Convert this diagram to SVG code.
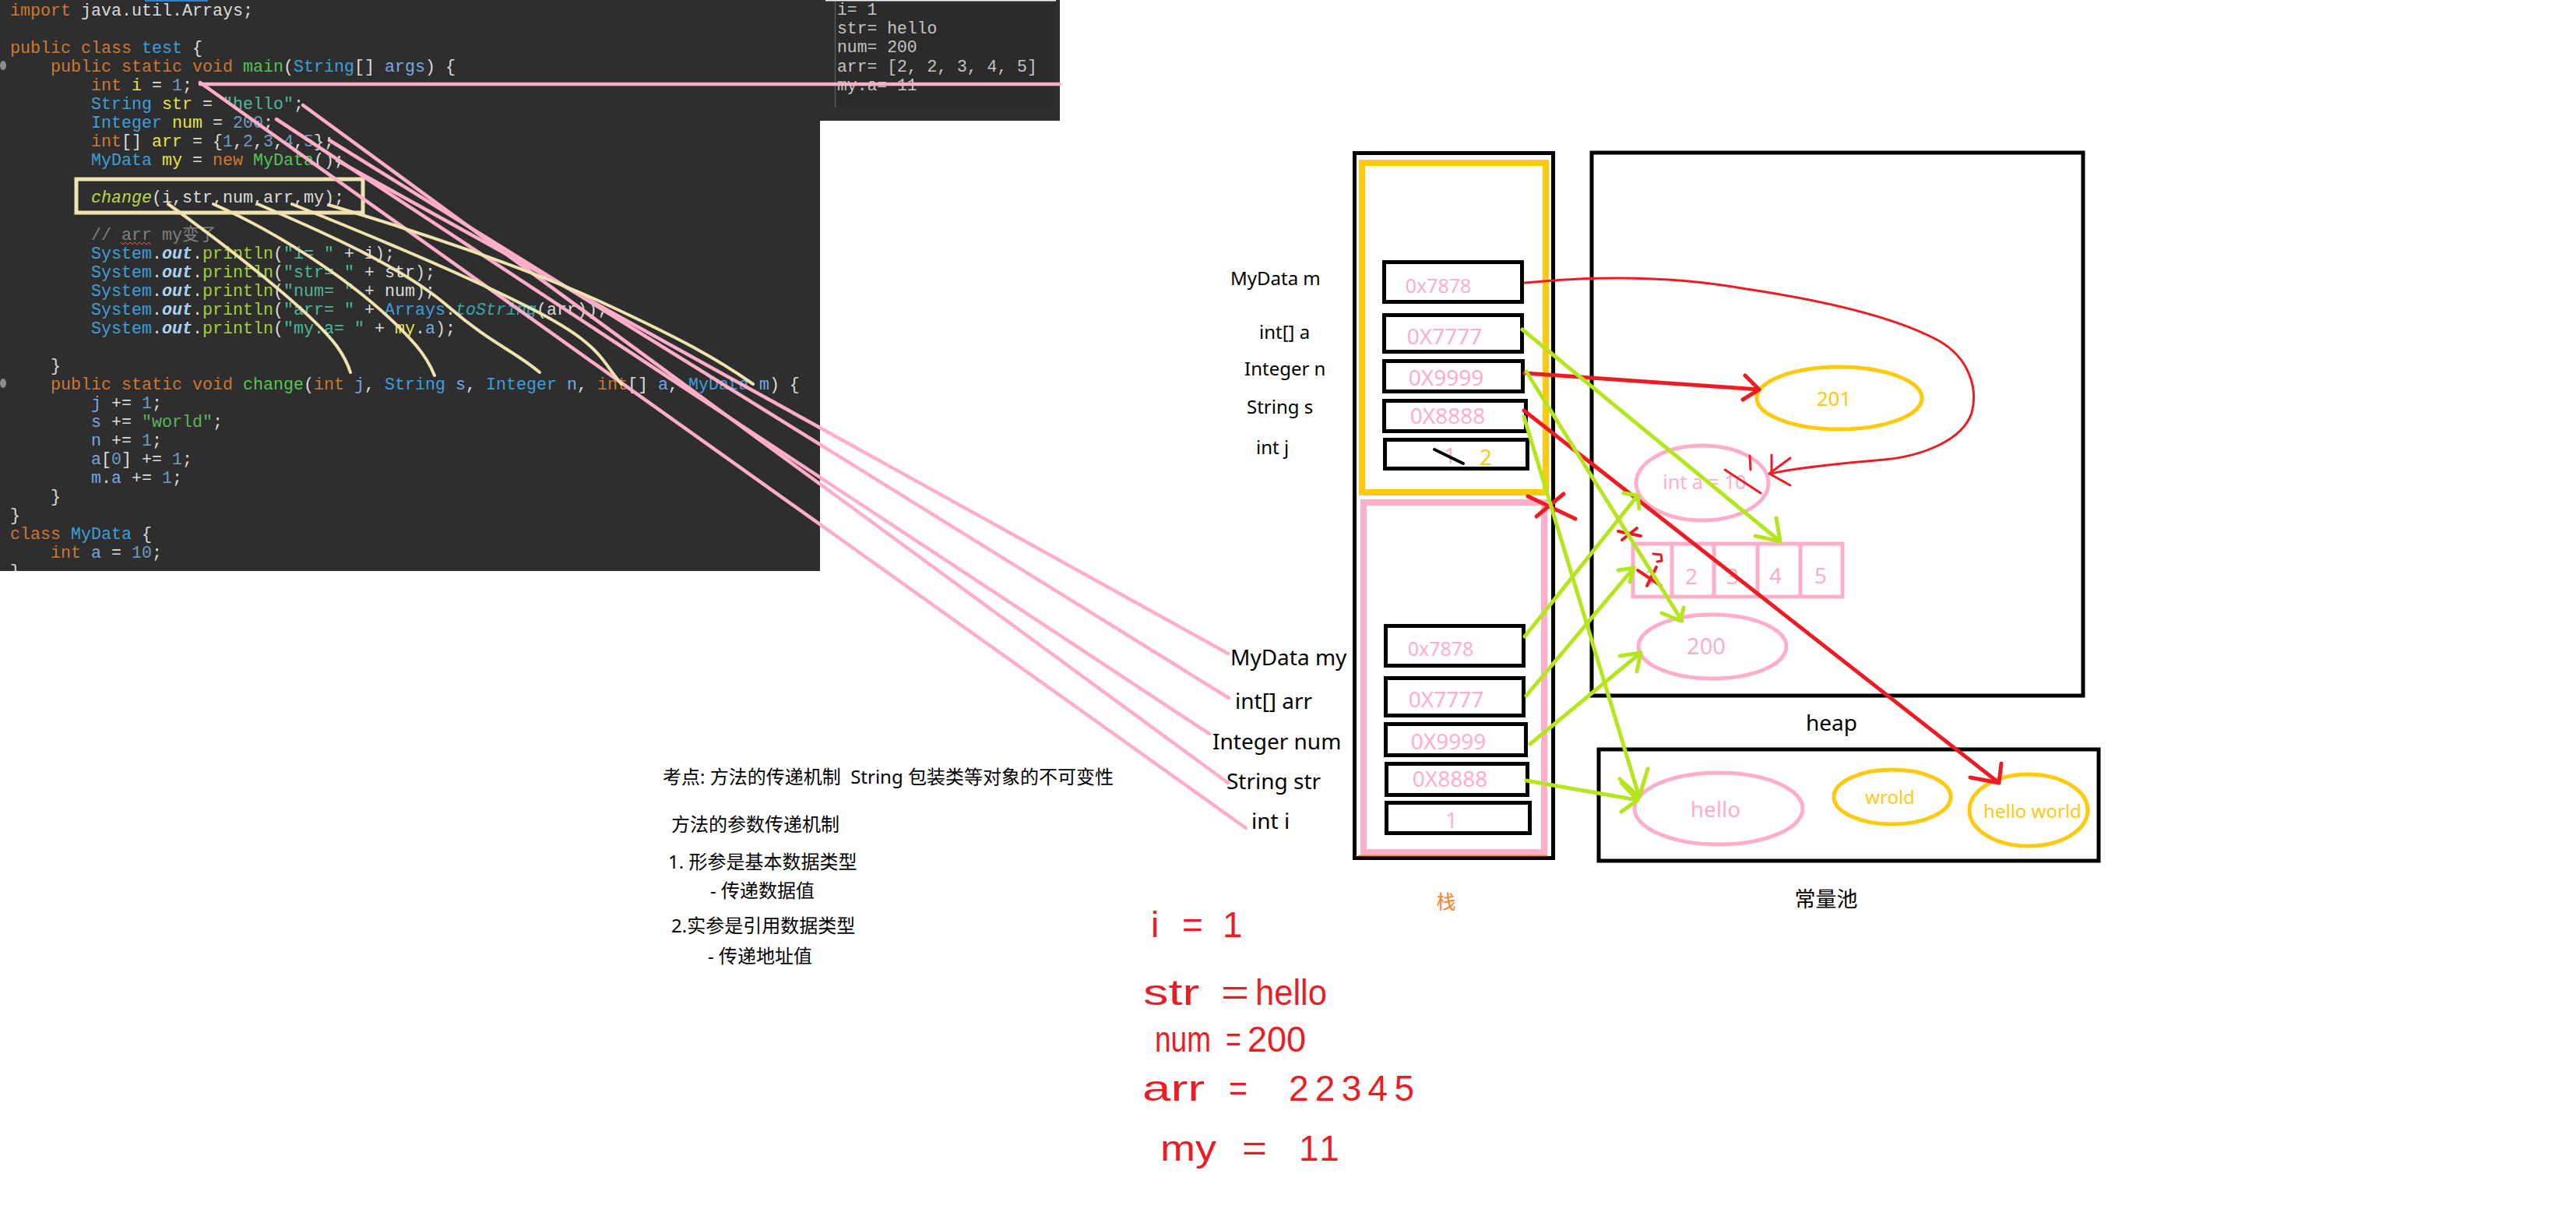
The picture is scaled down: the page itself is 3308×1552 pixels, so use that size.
<svg xmlns="http://www.w3.org/2000/svg" width="3308" height="1552" viewBox="0 0 3308 1552">
<style>
.code{font-family:"Liberation Mono","DejaVu Sans Mono","Noto Sans CJK SC",monospace;font-size:21.67px;fill:#dcdcdc;white-space:pre}
.k{fill:#cc7832}.c{fill:#3d9fd8}.v{fill:#e3e34a}.n{fill:#6f9cc4}.s{fill:#4db69a}.sw{fill:#5eb35e}.g{fill:#55c455}.pl{fill:#a3cf3a}.p{fill:#7aa6e6}.cm{fill:#7f7f7f}
.o{fill:#a9d3f5;font-weight:bold;font-style:italic}.ch{fill:#b8d84a;font-style:italic}.ts{fill:#38a6a6;font-style:italic}
.con{font-family:"Liberation Mono",monospace;font-size:21.4px;fill:#c4c4c4;white-space:pre}
.lbl{font-family:"Noto Sans","Noto Sans CJK SC",sans-serif;fill:#000}
.pk{font-family:"Noto Sans","Noto Sans CJK SC",sans-serif;fill:#ffaec9;text-anchor:middle}
.yl{font-family:"Noto Sans","Noto Sans CJK SC",sans-serif;fill:#ffc90e;text-anchor:middle}
.slot{fill:none;stroke:#000;stroke-width:5}
.note{font-family:"Noto Sans","Noto Sans CJK SC",sans-serif;font-size:24px;fill:#000;white-space:pre}
.hw{font-family:"Liberation Sans",sans-serif;font-size:46px;fill:#ed1c24}
.pinkln{fill:none;stroke:#ffaec9;stroke-width:4.5;stroke-linecap:round}
.cream{fill:none;stroke:#efe4b0;stroke-width:4;stroke-linecap:round;stroke-linejoin:round}
.red{fill:none;stroke:#ed1c24;stroke-linecap:round;stroke-linejoin:round}
.grn{fill:none;stroke:#b5e61d;stroke-width:5;stroke-linecap:round;stroke-linejoin:round}
</style>
<defs>
<clipPath id="codeclip"><rect x="0" y="0" width="1053" height="733"/></clipPath>
</defs>
<rect width="3308" height="1552" fill="#fff"/>

<g id="code-panel">
<rect x="0" y="0" width="1053" height="733" fill="#2e2e2e"/>
<rect x="1053" y="0" width="308" height="155" fill="#2e2e2e"/>
<rect x="186" y="0" width="81" height="2" fill="#3a7fc0"/>
<ellipse cx="4" cy="84" rx="4" ry="6" fill="#8c8c8c"/>
<ellipse cx="4" cy="492" rx="4" ry="6" fill="#8c8c8c"/>
<g clip-path="url(#codeclip)" class="code">
<text x="13" y="20"><tspan class="k">import</tspan> java.util.Arrays;</text>
<text x="13" y="68"><tspan class="k">public class</tspan> <tspan class="c">test</tspan> {</text>
<text x="65" y="92"><tspan class="k">public static void</tspan> <tspan class="g">main</tspan>(<tspan class="c">String</tspan>[] <tspan class="p">args</tspan>) {</text>
<text x="117" y="116"><tspan class="k">int</tspan> <tspan class="v">i</tspan> = <tspan class="n">1</tspan>;</text>
<text x="117" y="140"><tspan class="c">String</tspan> <tspan class="v">str</tspan> = <tspan class="s">"hello"</tspan>;</text>
<text x="117" y="164"><tspan class="c">Integer</tspan> <tspan class="v">num</tspan> = <tspan class="n">200</tspan>;</text>
<text x="117" y="188"><tspan class="k">int</tspan>[] <tspan class="v">arr</tspan> = {<tspan class="n">1</tspan>,<tspan class="n">2</tspan>,<tspan class="n">3</tspan>,<tspan class="n">4</tspan>,<tspan class="n">5</tspan>};</text>
<text x="117" y="212"><tspan class="c">MyData</tspan> <tspan class="v">my</tspan> = <tspan class="k">new</tspan> <tspan class="g">MyData</tspan>();</text>
<text x="117" y="260"><tspan class="ch">change</tspan>(i,str,num,arr,my);</text>
<text x="117" y="308" class="cm">// arr my变了</text>
<text x="117" y="332"><tspan class="c">System</tspan>.<tspan class="o">out</tspan>.<tspan class="pl">println</tspan>(<tspan class="s">"i= "</tspan> + i);</text>
<text x="117" y="356"><tspan class="c">System</tspan>.<tspan class="o">out</tspan>.<tspan class="pl">println</tspan>(<tspan class="s">"str= "</tspan> + str);</text>
<text x="117" y="380"><tspan class="c">System</tspan>.<tspan class="o">out</tspan>.<tspan class="pl">println</tspan>(<tspan class="s">"num= "</tspan> + num);</text>
<text x="117" y="404"><tspan class="c">System</tspan>.<tspan class="o">out</tspan>.<tspan class="pl">println</tspan>(<tspan class="s">"arr= "</tspan> + <tspan class="c">Arrays</tspan>.<tspan class="ts">toString</tspan>(arr));</text>
<text x="117" y="428"><tspan class="c">System</tspan>.<tspan class="o">out</tspan>.<tspan class="pl">println</tspan>(<tspan class="s">"my.a= "</tspan> + <tspan class="v">my</tspan>.<tspan class="p">a</tspan>);</text>
<text x="65" y="476">}</text>
<text x="65" y="500"><tspan class="k">public static void</tspan> <tspan class="g">change</tspan>(<tspan class="k">int</tspan> <tspan class="p">j</tspan>, <tspan class="c">String</tspan> <tspan class="p">s</tspan>, <tspan class="c">Integer</tspan> <tspan class="p">n</tspan>, <tspan class="k">int</tspan>[] <tspan class="p">a</tspan>, <tspan class="c">MyData</tspan> <tspan class="p">m</tspan>) {</text>
<text x="117" y="524"><tspan class="p">j</tspan> += <tspan class="n">1</tspan>;</text>
<text x="117" y="548"><tspan class="p">s</tspan> += <tspan class="sw">"world"</tspan>;</text>
<text x="117" y="572"><tspan class="p">n</tspan> += <tspan class="n">1</tspan>;</text>
<text x="117" y="596"><tspan class="p">a</tspan>[<tspan class="n">0</tspan>] += <tspan class="n">1</tspan>;</text>
<text x="117" y="620"><tspan class="p">m</tspan>.<tspan class="p">a</tspan> += <tspan class="n">1</tspan>;</text>
<text x="65" y="644">}</text>
<text x="13" y="668">}</text>
<text x="13" y="692"><tspan class="k">class</tspan> <tspan class="c">MyData</tspan> {</text>
<text x="65" y="716"><tspan class="k">int</tspan> <tspan class="p">a</tspan> = <tspan class="n">10</tspan>;</text>
<text x="13" y="740">}</text>
</g>
<polyline points="155,311 158,314 161,311 164,314 167,311 170,314 173,311 176,314 179,311 182,314 185,311 188,314 191,311 194,314" fill="none" stroke="#ff5050" stroke-width="1"/>
<rect x="98" y="230" width="368" height="43" fill="none" stroke="#efe4b0" stroke-width="5"/>
</g>

<g id="console">
<rect x="1072" y="1" width="284" height="139" fill="#2b2b2b"/>
<rect x="1060" y="0" width="296" height="1.5" fill="#f0f0f0"/>
<line x1="1072.5" y1="2" x2="1072.5" y2="138" stroke="#5a5a5a" stroke-width="1.5"/>
<g class="con">
<text x="1075" y="19">i= 1</text>
<text x="1075" y="43">str= hello</text>
<text x="1075" y="67">num= 200</text>
<text x="1075" y="92">arr= [2, 2, 3, 4, 5]</text>
<text x="1075" y="116">my.a= 11</text>
</g>
</g>

<g id="stack">
<rect x="1739.5" y="196.5" width="255" height="905" fill="none" stroke="#000" stroke-width="5"/>
<rect x="1749" y="209" width="236" height="423" fill="none" stroke="#ffc90e" stroke-width="8"/>
<rect x="1751" y="645" width="232" height="449" fill="none" stroke="#ffaec9" stroke-width="8"/>
<line x1="1744" y1="1098.5" x2="1987" y2="1098.5" stroke="#ff7f27" stroke-width="1.5"/>
<text x="1857" y="1167" font-family="Noto Sans CJK SC,sans-serif" font-size="25" fill="#ff7f27" text-anchor="middle">栈</text>
</g>

<g id="frame-change" class="lbl">
<g id="slot-m"><rect class="slot" x="1777.5" y="336.5" width="177" height="51"/><text class="pk" x="1847" y="376" font-size="25">0x7878</text><text x="1580" y="366" font-size="24">MyData m</text></g>
<g id="slot-a"><rect class="slot" x="1777.5" y="404.5" width="177" height="47"/><text class="pk" x="1855" y="442" font-size="28">0X7777</text><text x="1617" y="435" font-size="24">int[] a</text></g>
<g id="slot-n"><rect class="slot" x="1777.5" y="463.5" width="178" height="39"/><text class="pk" x="1857" y="495" font-size="28">0X9999</text><text x="1598" y="482" font-size="24">Integer n</text></g>
<g id="slot-s"><rect class="slot" x="1777.5" y="514.5" width="182" height="39"/><text class="pk" x="1859" y="544" font-size="28">0X8888</text><text x="1601" y="531" font-size="24">String s</text></g>
<g id="slot-j"><rect class="slot" x="1778.5" y="564.5" width="183" height="37"/><text class="pk" x="1862" y="595" font-size="28">1</text><text class="yl" x="1908" y="597" font-size="28">2</text><line x1="1842" y1="577" x2="1879" y2="595" stroke="#000" stroke-width="4" stroke-linecap="round"/><text x="1613" y="583" font-size="24">int j</text></g>
</g>

<g id="frame-main" class="lbl">
<g id="slot-my"><rect class="slot" x="1779.5" y="803.5" width="177" height="51"/><text class="pk" x="1850" y="842" font-size="25">0x7878</text><text x="1580" y="854" font-size="28">MyData my</text></g>
<g id="slot-arr"><rect class="slot" x="1779.5" y="870.5" width="177" height="48"/><text class="pk" x="1857" y="908" font-size="28">0X7777</text><text x="1586" y="910" font-size="28">int[] arr</text></g>
<g id="slot-num"><rect class="slot" x="1779.5" y="929.5" width="180" height="40"/><text class="pk" x="1860" y="962" font-size="28">0X9999</text><text x="1557" y="962" font-size="28">Integer num</text></g>
<g id="slot-str"><rect class="slot" x="1780.5" y="980.5" width="181" height="40"/><text class="pk" x="1862" y="1010" font-size="28">0X8888</text><text x="1575" y="1013" font-size="28">String str</text></g>
<g id="slot-i"><rect class="slot" x="1780.5" y="1030.5" width="184" height="39"/><text class="pk" x="1864" y="1063" font-size="28">1</text><text x="1607" y="1064" font-size="28">int i</text></g>
</g>

<g id="heap">
<rect x="2044" y="196" width="631" height="697" fill="none" stroke="#000" stroke-width="5"/>
<text class="lbl" x="2352" y="938" font-size="28" text-anchor="middle">heap</text>
<g id="obj-201"><ellipse cx="2362" cy="511" rx="106" ry="40" fill="none" stroke="#ffc90e" stroke-width="5"/><text class="yl" x="2355" y="521" font-size="26">201</text></g>
<g id="obj-mydata"><ellipse cx="2186" cy="620" rx="85" ry="48" fill="none" stroke="#ffaec9" stroke-width="5"/><text class="pk" x="2189" y="628" font-size="25">int a = 10</text></g>
<g id="obj-array">
<rect x="2097" y="698" width="269" height="68" fill="none" stroke="#ffaec9" stroke-width="5"/>
<line x1="2147" y1="698" x2="2147" y2="766" stroke="#ffaec9" stroke-width="5"/>
<line x1="2201" y1="698" x2="2201" y2="768" stroke="#ffaec9" stroke-width="5"/>
<line x1="2257" y1="698" x2="2257" y2="766" stroke="#ffaec9" stroke-width="5"/>
<line x1="2312" y1="698" x2="2312" y2="766" stroke="#ffaec9" stroke-width="5"/>
<g font-size="28"><text class="pk" x="2120" y="750">1</text><text class="pk" x="2172" y="750">2</text><text class="pk" x="2225" y="750">3</text><text class="pk" x="2280" y="749">4</text><text class="pk" x="2338" y="749">5</text></g>
</g>
<g id="obj-200"><ellipse cx="2199" cy="830" rx="95" ry="41" fill="none" stroke="#ffaec9" stroke-width="5"/><text class="pk" x="2191" y="840" font-size="29">200</text></g>
</g>

<g id="pool">
<rect x="2053" y="962" width="642" height="143" fill="none" stroke="#000" stroke-width="5"/>
<text class="lbl" x="2345" y="1164" font-size="27" text-anchor="middle">常量池</text>
<g id="str-hello"><ellipse cx="2207" cy="1038" rx="108" ry="46" fill="none" stroke="#ffaec9" stroke-width="5"/><text class="pk" x="2203" y="1049" font-size="28">hello</text></g>
<g id="str-wrold"><ellipse cx="2430" cy="1023" rx="75" ry="35" fill="none" stroke="#ffc90e" stroke-width="5"/><text class="yl" x="2427" y="1032" font-size="24">wrold</text></g>
<g id="str-helloworld"><ellipse cx="2605" cy="1040" rx="76" ry="46" fill="none" stroke="#ffc90e" stroke-width="5"/><text class="yl" x="2610" y="1050" font-size="24">hello world</text></g>
</g>

<g id="notes" class="note">
<text x="851" y="1006" xml:space="preserve">考点: 方法的传递机制  String 包装类等对象的不可变性</text>
<text x="862" y="1067">方法的参数传递机制</text>
<text x="858" y="1115">1. 形参是基本数据类型</text>
<text x="912" y="1152">- 传递数据值</text>
<text x="862" y="1197">2.实参是引用数据类型</text>
<text x="909" y="1236">- 传递地址值</text>
</g>

<g id="handwritten" class="hw">
<text y="1203"><tspan x="1478">i</tspan> <tspan x="1518">=</tspan> <tspan x="1570">1</tspan></text>
<text x="1468" y="1290" textLength="72" lengthAdjust="spacingAndGlyphs">str</text>
<text x="1568" y="1290" textLength="36" lengthAdjust="spacingAndGlyphs">=</text>
<text x="1612" y="1290" textLength="92" lengthAdjust="spacingAndGlyphs">hello</text>
<text x="1483" y="1350" textLength="72" lengthAdjust="spacingAndGlyphs">num</text>
<text x="1574" y="1350" textLength="20" lengthAdjust="spacingAndGlyphs">=</text>
<text x="1602" y="1350" textLength="75" lengthAdjust="spacingAndGlyphs">200</text>
<text x="1467" y="1413" textLength="80" lengthAdjust="spacingAndGlyphs">arr</text>
<text x="1578" y="1413" textLength="24" lengthAdjust="spacingAndGlyphs">=</text>
<text x="1655" y="1413" textLength="161" lengthAdjust="spacing">22345</text>
<text x="1490" y="1490" textLength="72" lengthAdjust="spacingAndGlyphs">my</text>
<text x="1595" y="1490" textLength="32" lengthAdjust="spacingAndGlyphs">=</text>
<text x="1668" y="1490" letter-spacing="4">11</text>
</g>

<g id="connectors">
<g class="pinkln">
<path d="M257,108 L1361,108"/>
<path d="M257,106 L1600,1063"/>
<path d="M389,135 L1577,1005"/>
<path d="M355,153 L1553,942"/>
<path d="M423,180 L1578,896"/>
<path d="M433,206 L1577,839"/>
</g>
<g class="cream">
<path d="M216,262 C290,315 400,400 433,445 Q445,462 450,478"/>
<path d="M274,262 C360,300 470,370 534,443 Q550,462 558,482"/>
<path d="M331,262 C420,300 520,345 575,393 S660,450 693,478"/>
<path d="M375,262 C470,300 580,345 676,393 S770,460 798,493"/>
<path d="M422,263 C530,295 680,345 777,390 S920,460 967,493"/>
</g>
<g class="red">
<path stroke-width="3" d="M1958,363 C2050,354 2150,354 2243,371 C2330,384 2430,405 2489,437 C2530,460 2540,500 2532,530 C2520,565 2470,585 2420,590 C2360,595 2310,600 2274,608"/>
<path stroke-width="3" d="M2299,588 L2272,608 L2299,623 M2275,584 L2275,606"/>
<path stroke-width="5" d="M1958,479 L2259,500 M2241,482 L2259,500 L2238,513"/>
<path stroke-width="5" d="M1957,527 L2567,1005 M2570,980 L2567,1005 L2530,998"/>
<path stroke-width="5" d="M1962,637 L2023,666 M2008,634 L1973,663"/>
<path stroke-width="4" d="M2078,682 L2107,688 M2102,678 L2083,693"/>
<path stroke-width="4" d="M2103,732 L2133,752 M2127,728 L2115,752"/>
<path stroke-width="3" d="M2123,711 L2133,712 L2134,720 L2128,721"/>
<path stroke-width="3" d="M2215,603 L2261,633 M2247,585 L2248,603"/>
</g>
<g class="grn">
<path d="M1955,423 L2286,695 M2254,688 L2286,695 L2281,665"/>
<path d="M1960,477 L2160,797 M2134,787 L2158,797 L2162,780"/>
<path d="M1957,535 L2105,1023 M2080,1000 L2105,1023 L2116,987"/>
<path d="M1958,817 L2103,636 M2085,633 L2103,636 L2105,653"/>
<path d="M1960,893 L2098,729 M2078,732 L2098,729 L2093,747"/>
<path d="M1965,955 L2107,838 M2080,842 L2107,838 L2102,862"/>
<path d="M1960,1002 L2103,1027 M2082,1005 L2103,1027 L2082,1042"/>
</g>
</g>
</svg>
